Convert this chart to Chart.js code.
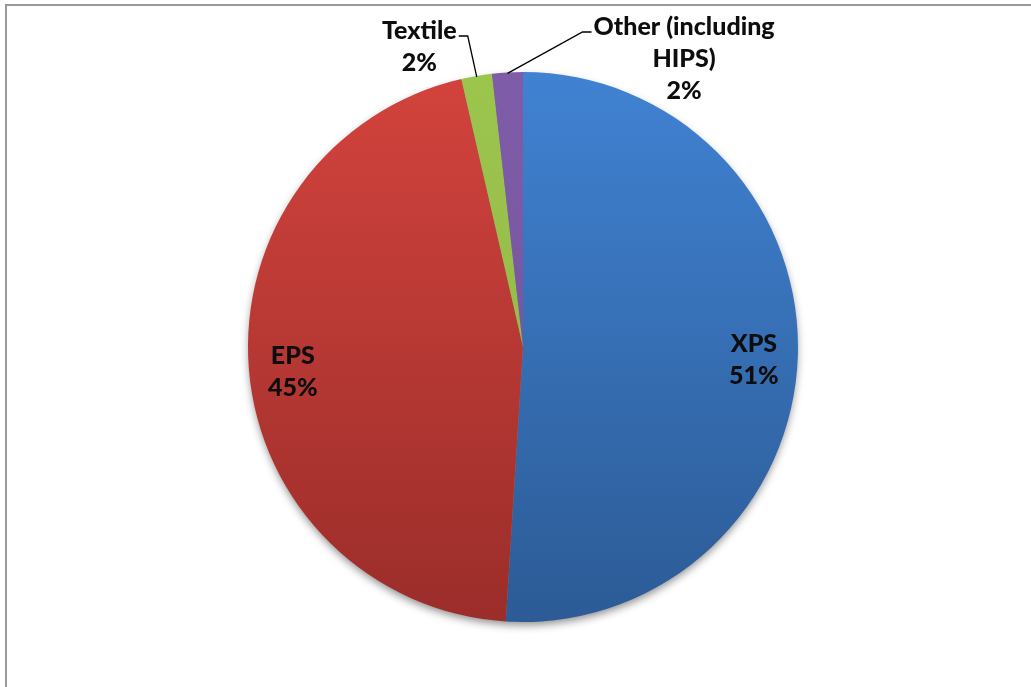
<!DOCTYPE html>
<html>
<head>
<meta charset="utf-8">
<script src="https://cdn.jsdelivr.net/npm/chart.js@4.4.0/dist/chart.umd.min.js"></script>
<style>
  html, body { margin: 0; padding: 0; background: #fff; }
  #wrap { position: relative; width: 1031px; height: 687px; }
</style>
</head>
<body>
<div id="wrap"><canvas id="pieChart" width="1031" height="687"></canvas></div>
<script>
// data
const categories = ['XPS', 'EPS', 'Textile', 'Other (including HIPS)'];
const shares = [51.0, 45.4, 1.8, 1.8];
const labelLines = [['XPS'], ['EPS'], ['Textile'], ['Other (including', 'HIPS)']];

// top / bottom colours of the gradient fill
const topColors = ['#4082d2', '#d3433d', '#9cc54e', '#7f5ca8'];
const bottomColors = ['#2c5b96', '#9b2d2a', '#8fb443', '#70519a'];

const FONT = '900 25px Lato, "Open Sans", sans-serif';

const fillFor = (ctx) => {
  const chart = ctx.chart;
  const area = chart.chartArea;
  if (!area) return topColors[ctx.dataIndex];
  const g = chart.ctx.createLinearGradient(0, area.top, 0, area.bottom);
  g.addColorStop(0, topColors[ctx.dataIndex]);
  g.addColorStop(1, bottomColors[ctx.dataIndex]);
  return g;
};

// frame + drop shadow under the pie
const backdrop = {
  id: 'backdrop',
  beforeDraw(chart) {
    const c = chart.ctx;
    c.save();
    c.strokeStyle = '#9a9a9a';
    c.lineWidth = 2;
    c.beginPath();
    c.moveTo(6, chart.height + 5);
    c.lineTo(6, 5);
    c.lineTo(chart.width + 5, 5);
    c.stroke();
    c.restore();
  },
  beforeDatasetsDraw(chart) {
    const arc = chart.getDatasetMeta(0).data[0];
    if (!arc) return;
    const c = chart.ctx;
    c.save();
    c.shadowColor = 'rgba(0,0,0,0.45)';
    c.shadowBlur = 9;
    c.shadowOffsetY = 4;
    c.fillStyle = '#888';
    c.beginPath();
    c.arc(arc.x, arc.y, arc.outerRadius - 1, 0, Math.PI * 2);
    c.fill();
    c.restore();
  }
};

// data labels, inside for big slices, with leader lines for small ones
const sliceLabels = {
  id: 'sliceLabels',
  afterDatasetsDraw(chart) {
    const c = chart.ctx;
    const meta = chart.getDatasetMeta(0);
    const total = shares.reduce((a, b) => a + b, 0);
    c.save();
    c.font = FONT;
    c.fillStyle = '#0d0d0d';
    c.textAlign = 'center';
    c.textBaseline = 'middle';
    const lh = 32;
    meta.data.forEach((arc, i) => {
      const lines = labelLines[i].concat([Math.round(shares[i] / total * 100) + '%']);
      const mid = (arc.startAngle + arc.endAngle) / 2;
      let cx, cy;
      if (shares[i] > 10) {
        const r = arc.outerRadius * 0.84;
        cx = arc.x + Math.cos(mid) * r;
        cy = arc.y + Math.sin(mid) * r + 6;
      } else {
        // leader line from slice edge
        const ex = arc.x + Math.cos(mid) * (arc.outerRadius - 1);
        const ey = arc.y + Math.sin(mid) * (arc.outerRadius - 1);
        const left = Math.cos(mid) < -0.14;
        const elbowX = left ? ex - 9 : ex + 75;
        const elbowY = left ? 36 : 32;
        const endX = left ? elbowX - 9 : elbowX + 9;
        c.strokeStyle = '#000';
        c.lineWidth = 1.3;
        c.beginPath();
        c.moveTo(ex, ey);
        c.lineTo(elbowX, elbowY);
        c.lineTo(endX, elbowY);
        c.stroke();
        const w = Math.max(...lines.map(t => c.measureText(t).width));
        cx = left ? endX - 2 - w / 2 : endX + 2 + w / 2;
        cy = elbowY - 5 + (lines.length - 1) * lh / 2;
      }
      const y0 = cy - (lines.length - 1) * lh / 2;
      lines.forEach((t, k) => c.fillText(t, cx, y0 + k * lh));
    });
    c.restore();
  }
};

new Chart(document.getElementById('pieChart'), {
  type: 'pie',
  data: {
    labels: categories,
    datasets: [{
      data: shares,
      backgroundColor: fillFor,
      borderWidth: 0
    }]
  },
  options: {
    responsive: false,
    animation: false,
    layout: { padding: { top: 72, bottom: 65, left: 248, right: 233 } },
    plugins: {
      legend: { display: false },
      tooltip: { enabled: false }
    }
  },
  plugins: [backdrop, sliceLabels]
});
</script>
</body>
</html>
